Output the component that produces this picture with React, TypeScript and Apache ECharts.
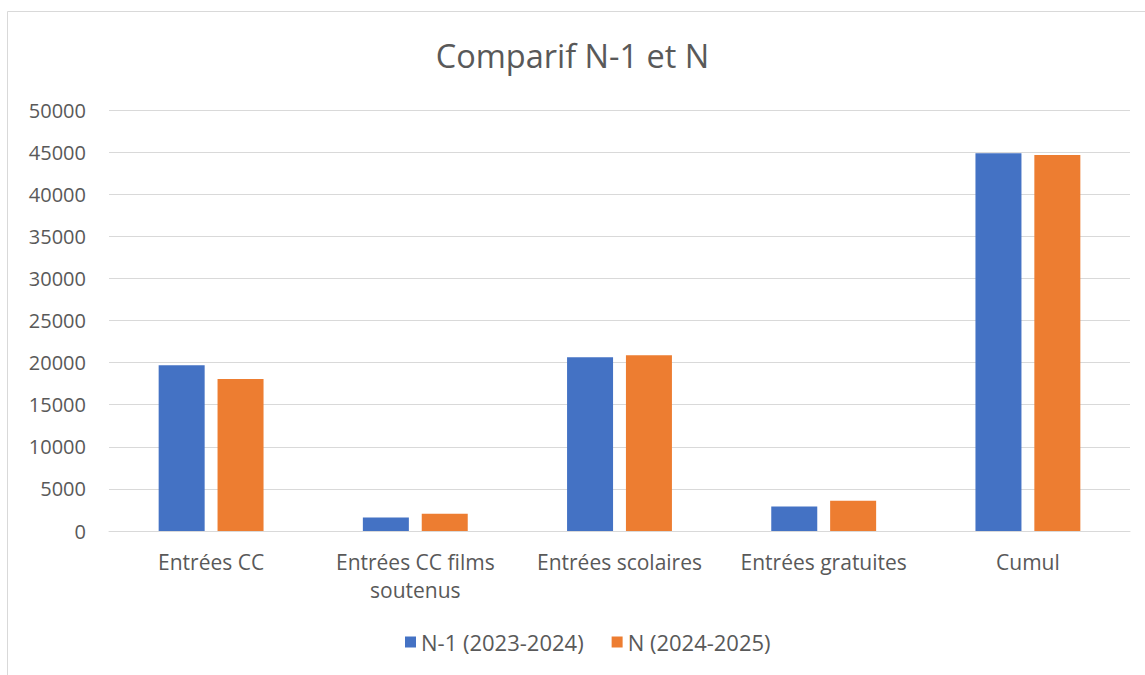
import React, { useEffect, useRef } from "react";
import * as echarts from "echarts";

const categories = ["Entrées CC", "Entrées CC films\nsoutenus", "Entrées scolaires", "Entrées gratuites", "Cumul"];
const seriesNames = ["N-1 (2023-2024)", "N (2024-2025)"];
const previousYear = [19700, 1600, 20650, 2900, 44850];
const currentYear = [18050, 2050, 20880, 3600, 44650];
const colors = ["#4472C4", "#ED7D31"];
const FONT = "'Open Sans', 'Noto Sans', sans-serif";

export default function App() {
  const ref = useRef<HTMLDivElement>(null);
  useEffect(() => {
    if (!ref.current) return;
    const chart = echarts.init(ref.current, null, { renderer: "svg" });
    chart.setOption({
      animation: false,
      backgroundColor: "#ffffff",
      textStyle: { fontFamily: FONT },
      title: {
        text: "Comparif N-1 et N",
        left: "center",
        top: 34,
        textStyle: { fontFamily: FONT, fontSize: 32.5, fontWeight: "normal", color: "#595959" },
      },
      graphic: [
        {
          type: "rect",
          shape: { x: 7.5, y: 11.5, width: 1160, height: 700 },
          style: { fill: "none", stroke: "#d9d9d9", lineWidth: 1 },
          silent: true,
        },
      ],
      legend: {
        bottom: 17,
        left: 400,
        itemWidth: 11,
        itemHeight: 11,
        itemGap: 28,
        icon: "rect",
        textStyle: { fontFamily: FONT, fontSize: 22, color: "#595959" },
        data: seriesNames,
      },
      grid: { left: 109, right: 15, top: 110, bottom: 144 },
      xAxis: {
        type: "category",
        data: categories,
        axisLine: { lineStyle: { color: "#d9d9d9", width: 1 } },
        axisTick: { show: false },
        axisLabel: { fontFamily: FONT, fontSize: 21, color: "#595959", margin: 17, lineHeight: 28, interval: 0 },
      },
      yAxis: {
        type: "value",
        min: 0,
        max: 50000,
        interval: 5000,
        axisLine: { show: false },
        axisTick: { show: false },
        splitLine: { lineStyle: { color: "#d9d9d9", width: 1 } },
        axisLabel: { fontFamily: FONT, fontSize: 20, color: "#595959", margin: 23, formatter: (v: number) => String(v) },
      },
      series: [
        {
          name: seriesNames[0],
          type: "bar",
          data: previousYear,
          barWidth: 46,
          barGap: "28%",
          itemStyle: { color: colors[0] },
        },
        {
          name: seriesNames[1],
          type: "bar",
          data: currentYear,
          barWidth: 46,
          barGap: "28%",
          itemStyle: { color: colors[1] },
        },
      ],
    });
    return () => chart.dispose();
  }, []);
  return <div ref={ref} style={{ position: "fixed", left: 0, top: 0, width: 1145, height: 675 }} />;
}
